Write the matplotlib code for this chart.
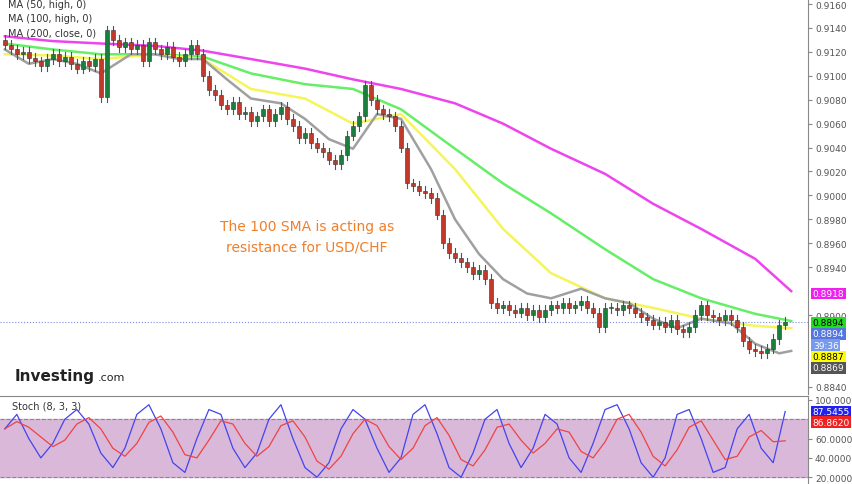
import matplotlib.pyplot as plt
import numpy as np

closes = [0.9126, 0.9122, 0.9118, 0.9120, 0.9115, 0.9112,
          0.9108, 0.9114, 0.9118, 0.9112, 0.9116,
          0.9110, 0.9106, 0.9112, 0.9108, 0.9114,
          0.9082, 0.9138,
          0.9130, 0.9124, 0.9128, 0.9122, 0.9126, 0.9112,
          0.9128, 0.9122, 0.9118, 0.9124, 0.9116, 0.9112, 0.9118, 0.9126,
          0.9118, 0.9100, 0.9088, 0.9084, 0.9076,
          0.9072, 0.9078, 0.9068, 0.9070, 0.9062, 0.9066, 0.9072,
          0.9062, 0.9068, 0.9074, 0.9064, 0.9058, 0.9048, 0.9052,
          0.9044, 0.9040, 0.9036, 0.9030, 0.9026, 0.9034,
          0.9050, 0.9058, 0.9066, 0.9092,
          0.9080, 0.9072, 0.9068, 0.9066, 0.9058,
          0.9040, 0.9010, 0.9008, 0.9004, 0.9002,
          0.8998, 0.8984, 0.8960,
          0.8952, 0.8948, 0.8944, 0.8940, 0.8934, 0.8938, 0.8930,
          0.8910, 0.8906, 0.8908, 0.8904, 0.8902, 0.8906, 0.8900, 0.8904, 0.8898,
          0.8904, 0.8908, 0.8906, 0.8910, 0.8906, 0.8908, 0.8912,
          0.8906, 0.8902, 0.8890, 0.8906,
          0.8906, 0.8904, 0.8908, 0.8906, 0.8902, 0.8898,
          0.8896, 0.8892, 0.8894, 0.8890, 0.8896, 0.8888, 0.8886, 0.8890,
          0.8900, 0.8908, 0.8900,
          0.8898, 0.8896, 0.8900, 0.8896, 0.8890, 0.8878,
          0.8872, 0.8870, 0.8868, 0.8872, 0.8880,
          0.8892, 0.8894]
first_open = 0.9130

ma_x = [0, 8, 16, 25, 33, 41, 50, 58, 66, 75, 83, 91, 100, 108, 116, 125, 131]
ma200 = [0.9133, 0.9129, 0.9127, 0.9125, 0.9121, 0.9114, 0.9106, 0.9097, 0.9089,
         0.9077, 0.9060, 0.9039, 0.9018, 0.8993, 0.8972, 0.8947, 0.8920]
ma100 = [0.9127, 0.9122, 0.9118, 0.9118, 0.9116, 0.9102, 0.9093, 0.9089, 0.9072,
         0.9039, 0.9010, 0.8985, 0.8955, 0.8930, 0.8914, 0.8901, 0.8895]
ma50 = [0.9118, 0.9117, 0.9114, 0.9118, 0.9114, 0.9089, 0.9081, 0.9060, 0.9068,
        0.9022, 0.8972, 0.8935, 0.8914, 0.8906, 0.8897, 0.8891, 0.8889]
gray_x = [0, 4, 8, 12, 16, 21, 25, 29, 33, 37, 41, 46, 50, 54, 58, 62, 66, 71, 75,
          79, 83, 87, 91, 96, 100, 104, 108, 112, 116, 121, 125, 129, 131]
ma_gray = [0.9122, 0.9110, 0.9114, 0.9110, 0.9102, 0.9118, 0.9118, 0.9114, 0.9114,
           0.9097, 0.9081, 0.9077, 0.9064, 0.9047, 0.9039, 0.9068, 0.9064, 0.9022,
           0.8980, 0.8951, 0.8930, 0.8918, 0.8914, 0.8922, 0.8914, 0.8910, 0.8897,
           0.8889, 0.8897, 0.8893, 0.8876, 0.8868, 0.8870]

stoch_k = [70, 85, 60, 40, 55, 80, 90, 75, 45, 30, 50, 85, 95, 70, 35, 25, 60, 90, 85, 50,
           30, 45, 80, 95, 60, 30, 20, 35, 70, 90, 80, 50, 25, 40, 85, 95, 65, 30, 20, 45,
           80, 90, 55, 30, 50, 85, 75, 40, 25, 55, 90, 95, 70, 35, 20, 40, 85, 90, 60, 25,
           30, 70, 85, 50, 35, 88]

# ticks left visible (others hidden behind the value labels in the original)
price_ticks = [0.8840, 0.8900, 0.8940, 0.8960, 0.8980, 0.9000,
               0.9020, 0.9040, 0.9060, 0.9080, 0.9100, 0.9120, 0.9140, 0.9160]
stoch_ticks = [20, 40, 60, 100]

fig = plt.figure(figsize=(8.52, 4.85), dpi=100)
ax = fig.add_axes([0, 90 / 485, 808 / 852, 395 / 485])
ax2 = fig.add_axes([0, 0, 808 / 852, 88 / 485])

opens = [first_open] + closes[:-1]
for i, (o, c) in enumerate(zip(opens, closes)):
    col = '#1a7f3c' if c >= o else '#c0392b'
    ax.plot([i, i], [min(o, c) - 0.0004, max(o, c) + 0.0004], color='#2e6b3e', lw=0.8, zorder=3)
    ax.bar(i, max(abs(c - o), 0.00005), bottom=min(o, c), width=0.7, color=col,
           edgecolor='#333333', lw=0.4, zorder=4)

ax.plot(ma_x, ma200, color='#ee44ee', lw=1.8, zorder=2)
ax.plot(ma_x, ma100, color='#66ee66', lw=1.8, zorder=2)
ax.plot(ma_x, ma50, color='#f5f55a', lw=1.8, zorder=2)
ax.plot(gray_x, ma_gray, color='#a0a0a0', lw=1.8, zorder=2)
ax.axhline(0.8894, color='#7a8ee0', lw=0.8, ls=':')

ax.set_xlim(-0.8, 133.8)
ax.set_ylim(0.8834, 0.91642)
ax.yaxis.tick_right()
ax.set_yticks(price_ticks)
ax.set_yticklabels(['%.4f' % t for t in price_ticks], fontsize=6.5, color='#555555')
ax.set_xticks([])
for s in ['top', 'left', 'bottom']:
    ax.spines[s].set_visible(False)
ax.spines['right'].set_color('#888888')
ax.tick_params(axis='y', length=3, color='#888888', pad=2)

ax.text(0.01, 1.0, 'MA (50, high, 0)\nMA (100, high, 0)\nMA (200, close, 0)',
        transform=ax.transAxes, fontsize=7, color='#333333', va='top', linespacing=1.5)
ax.text(0.38, 0.40, 'The 100 SMA is acting as\nresistance for USD/CHF', transform=ax.transAxes,
        fontsize=10, color='#f07f2a', ha='center', va='center', linespacing=1.6)
ax.text(0.018, 0.035, 'Investing', transform=ax.transAxes, fontsize=11, fontweight='bold',
        color='#222222')
ax.text(0.121, 0.035, '.com', transform=ax.transAxes, fontsize=8, color='#222222')

labels = ['0.8918', '0.8894', '0.8894', '39:36', '0.8887', '0.8869']
label_y = [0.8918, 0.88938, 0.88843, 0.88748, 0.88653, 0.88558]
label_bg = ['#ee22ee', '#22dd22', '#5577dd', '#7799ee', '#ffff00', '#555555']
label_fg = ['white', 'black', 'white', 'white', 'black', 'white']
for txt, yp, bg, fg in zip(labels, label_y, label_bg, label_fg):
    ax.text(1.006, yp, txt, transform=ax.get_yaxis_transform(), fontsize=6.5, color=fg,
            va='center', ha='left', bbox=dict(boxstyle='square,pad=0.15', fc=bg, ec='none'),
            clip_on=False, zorder=10)

sx = [2 * i for i in range(len(stoch_k))]
stoch_d = [np.mean(stoch_k[max(0, i - 2):i + 1]) for i in range(len(stoch_k))]
ax2.axhspan(20, 80, color='#d9b8d9', zorder=0)
ax2.axhline(80, color='#888888', ls='--', lw=0.8)
ax2.axhline(20, color='#888888', ls='--', lw=0.8)
ax2.plot(sx, stoch_k, color='#4444ee', lw=0.9)
ax2.plot(sx, stoch_d, color='#ee4444', lw=0.9)
ax2.set_xlim(-0.8, 133.8)
ax2.set_ylim(13, 104)
ax2.yaxis.tick_right()
ax2.set_yticks(stoch_ticks)
ax2.set_yticklabels(['%.4f' % t for t in stoch_ticks], fontsize=6.5, color='#555555')
ax2.tick_params(axis='y', length=3, color='#888888', pad=2)
ax2.set_xticks([])
for s in ['left', 'bottom']:
    ax2.spines[s].set_visible(False)
ax2.spines['top'].set_color('#888888')
ax2.spines['right'].set_color('#888888')
ax2.text(0.015, 0.86, 'Stoch (8, 3, 3)', transform=ax2.transAxes, fontsize=7, color='#333333')
ax2.text(1.006, 88, '87.5455', transform=ax2.get_yaxis_transform(), fontsize=6.5, color='white',
         va='center', bbox=dict(boxstyle='square,pad=0.15', fc='#2222ee', ec='none'), clip_on=False)
ax2.text(1.006, 77, '86.8620', transform=ax2.get_yaxis_transform(), fontsize=6.5, color='white',
         va='center', bbox=dict(boxstyle='square,pad=0.15', fc='#ee2222', ec='none'), clip_on=False)

fig.savefig('out.png', dpi=100)
